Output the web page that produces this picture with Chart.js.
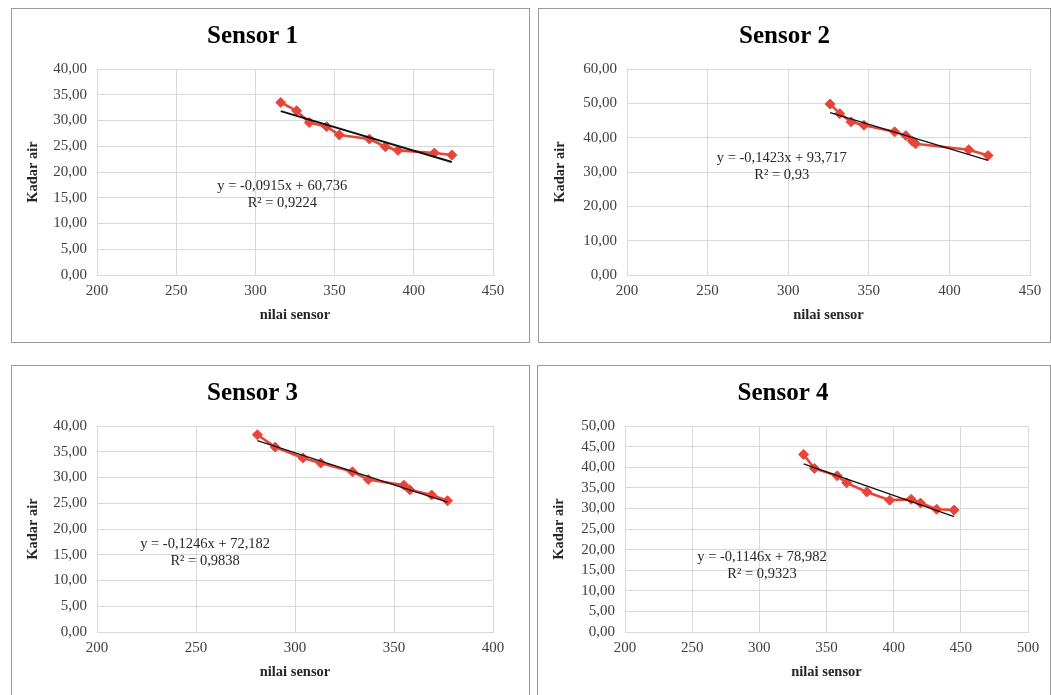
<!DOCTYPE html>
<html>
<head>
<meta charset="utf-8">
<script src="https://cdn.jsdelivr.net/npm/chart.js@4.4.0/dist/chart.umd.min.js"></script>
<style>
	body { margin: 0; background: #fff; width: 1051px; height: 695px; overflow: hidden; position: relative; }
	.box { position: absolute; border: 1px solid #9a9a9a; box-sizing: border-box; background: #fff; }
	.box canvas { display: block; }
</style>
</head>
<body>
<div class="box" style="left:11px;top:8px;width:519px;height:335px"><canvas id="c1" width="517" height="333"></canvas></div>
<div class="box" style="left:538px;top:8px;width:513px;height:335px"><canvas id="c2" width="511" height="333"></canvas></div>
<div class="box" style="left:11px;top:365px;width:519px;height:340px"><canvas id="c3" width="517" height="338"></canvas></div>
<div class="box" style="left:537px;top:365px;width:514px;height:340px"><canvas id="c4" width="512" height="338"></canvas></div>
<script>
// nilai sensor (x) and kadar air (y)
const sensor1X = [316, 326, 334, 345, 353, 372, 382, 390, 413, 424];
const sensor1Y = [33.5, 31.9, 29.6, 28.8, 27.2, 26.4, 24.9, 24.2, 23.7, 23.3];
const sensor2X = [326, 332, 339, 347, 366, 373, 377, 379, 412, 424];
const sensor2Y = [49.8, 47.0, 44.6, 43.6, 41.7, 40.6, 39.0, 38.2, 36.5, 34.8];
const sensor3X = [281, 290, 304, 313, 329, 337, 355, 358, 369, 377];
const sensor3Y = [38.3, 35.9, 33.8, 32.8, 31.1, 29.6, 28.5, 27.6, 26.6, 25.5];
const sensor4X = [333, 341, 358, 365, 380, 397, 413, 420, 432, 445];
const sensor4Y = [43.1, 39.7, 37.9, 36.2, 34.0, 32.0, 32.2, 31.3, 29.8, 29.6];

// trendline equations shown on the charts
const titles = ['Sensor 1', 'Sensor 2', 'Sensor 3', 'Sensor 4'];
const slopes = [-0.0915, -0.1423, -0.1246, -0.1146];
const intercepts = [60.736, 93.717, 72.182, 78.982];
const slopeText = ['-0,0915', '-0,1423', '-0,1246', '-0,1146'];
const interceptText = ['60,736', '93,717', '72,182', '78,982'];
const r2Text = ['0,9224', '0,93', '0,9838', '0,9323'];

// axis ranges
const xMax = [450, 450, 400, 500];
const yMax = [40, 60, 40, 50];
const yStep = [5, 10, 5, 5];

const serif = 'Liberation Serif';
const red = '#e8453a';

const eqLabel = {
	id: 'eqLabel',
	afterDatasetsDraw(chart, args, opts) {
		const { ctx, scales } = chart;
		const px = scales.x.getPixelForValue(opts.x);
		const py = scales.y.getPixelForValue(opts.y);
		ctx.save();
		ctx.font = '14.5px "' + serif + '"';
		ctx.fillStyle = '#262626';
		ctx.textAlign = 'center';
		ctx.textBaseline = 'middle';
		ctx.fillText(opts.line1, px, py);
		ctx.fillText(opts.line2, px, py + 17);
		ctx.restore();
	},
};

function makeChart(i, xs, ys, layout) {
	const points = xs.map((x, k) => ({ x, y: ys[k] }));
	const x0 = xs[0];
	const x1 = xs[xs.length - 1];
	const trend = [
		{ x: x0, y: slopes[i] * x0 + intercepts[i] },
		{ x: x1, y: slopes[i] * x1 + intercepts[i] },
	];
	const canvas = document.getElementById('c' + (i + 1));
	return new Chart(canvas, {
		type: 'scatter',
		data: {
			datasets: [
				{
					data: trend,
					showLine: true,
					borderColor: '#111',
					borderWidth: layout.trendWidth,
					pointRadius: 0,
					order: 0,
				},
				{
					data: points,
					showLine: true,
					borderColor: red,
					backgroundColor: red,
					borderWidth: 2.6,
					pointStyle: 'rectRot',
					pointRadius: 5,
					pointBorderWidth: 1,
					order: 1,
				},
			],
		},
		options: {
			responsive: false,
			animation: false,
			layout: { padding: { left: 0, right: layout.right, top: 0, bottom: layout.bottom } },
			plugins: {
				legend: { display: false },
				tooltip: { enabled: false },
				title: {
					display: true,
					text: titles[i],
					color: '#000',
					font: { family: serif, size: 25, weight: 'bold' },
					padding: { top: 13, bottom: 17 },
				},
				eqLabel: {
					x: layout.labelX,
					y: layout.labelY,
					line1: 'y = ' + slopeText[i] + 'x + ' + interceptText[i],
					line2: 'R² = ' + r2Text[i],
				},
			},
			scales: {
				x: {
					type: 'linear',
					min: 200,
					max: xMax[i],
					afterFit: (s) => { s.height = 67; },
					ticks: {
						stepSize: 50,
						autoSkip: false,
						padding: 7,
						color: '#404040',
						font: { family: serif, size: 15 },
					},
					grid: { color: '#d9d9d9', drawTicks: false },
					border: { color: '#d9d9d9' },
					title: {
						display: true,
						text: 'nilai sensor',
						color: '#262626',
						font: { family: serif, size: 14.5, weight: 'bold' },
						padding: { top: 4, bottom: 18 },
					},
				},
				y: {
					min: 0,
					max: yMax[i],
					afterFit: (s) => { s.width = layout.left; },
					ticks: {
						stepSize: yStep[i],
						autoSkip: false,
						padding: 10,
						color: '#404040',
						font: { family: serif, size: 15 },
						callback: (v) => v.toFixed(2).replace('.', ','),
					},
					grid: { color: '#d9d9d9', drawTicks: false },
					border: { color: '#d9d9d9' },
					title: {
						display: true,
						text: 'Kadar air',
						color: '#262626',
						font: { family: serif, size: 14.5, weight: 'bold' },
						padding: { top: 13, bottom: 4 },
					},
				},
			},
		},
		plugins: [eqLabel],
	});
}

makeChart(0, sensor1X, sensor1Y, { left: 85, right: 36, bottom: 0, trendWidth: 2, labelX: 317, labelY: 17.3 });
makeChart(1, sensor2X, sensor2Y, { left: 88, right: 20, bottom: 0, trendWidth: 1.3, labelX: 296, labelY: 34.1 });
makeChart(2, sensor3X, sensor3Y, { left: 85, right: 36, bottom: 5, trendWidth: 1.3, labelX: 254.6, labelY: 17.0 });
makeChart(3, sensor4X, sensor4Y, { left: 87, right: 22, bottom: 5, trendWidth: 1.3, labelX: 302, labelY: 18.2 });
</script>
</body>
</html>
